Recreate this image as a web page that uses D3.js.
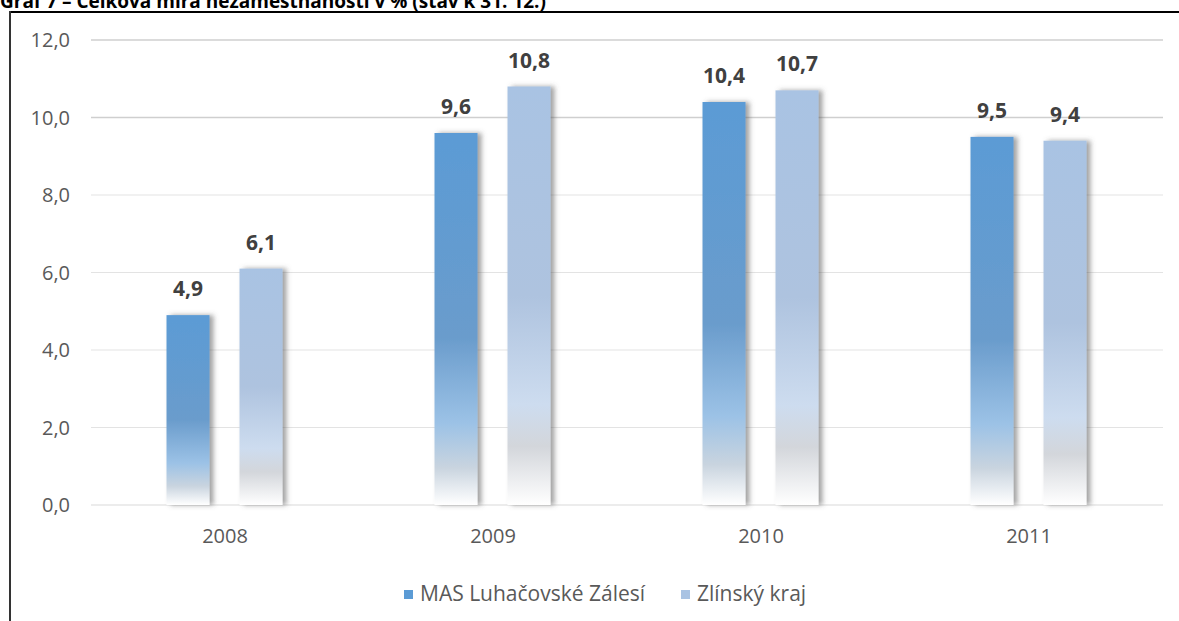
<!DOCTYPE html>
<html lang="cs">
<head>
  <meta charset="UTF-8">
  <title>Celková míra nezaměstnanosti</title>
  <script src="https://d3js.org/d3.v7.min.js"></script>
  <style>
    body { margin: 0; background: #fff; overflow: hidden; }
    svg { display: block; font-family: "Open Sans", "Noto Sans", sans-serif; }
  </style>
</head>
<body>
  <svg id="chart" width="1179" height="621"></svg>
  <script>
    const years = ["2008", "2009", "2010", "2011"];
    const seriesNames = ["MAS Luhačovské Zálesí", "Zlínský kraj"];
    const masValues = [4.9, 9.6, 10.4, 9.5];
    const krajValues = [6.1, 10.8, 10.7, 9.4];
    const yTicks = [0, 2, 4, 6, 8, 10, 12];

    const svg = d3.select("#chart");
    const fmt = v => d3.format(".1f")(v).replace(".", ",");

    // gradients + shadow
    const defs = svg.append("defs");
    const grads = [
      { id: "g0", stops: [[0, "#5b9bd5"], [0.55, "#6a9ccc"], [0.78, "#9cc2e6"], [0.9, "#c9d4df"], [1, "#ffffff"]] },
      { id: "g1", stops: [[0, "#a9c3e3"], [0.5, "#aec3df"], [0.76, "#cddcef"], [0.86, "#d3d6db"], [1, "#ffffff"]] }
    ];
    grads.forEach(g => {
      const lg = defs.append("linearGradient").attr("id", g.id)
        .attr("x1", 0).attr("y1", 0).attr("x2", 0).attr("y2", 1);
      g.stops.forEach(s => lg.append("stop").attr("offset", s[0]).attr("stop-color", s[1]));
    });
    defs.append("filter").attr("id", "shadow")
      .attr("x", "-20%").attr("y", "-5%").attr("width", "150%").attr("height", "110%")
      .append("feDropShadow").attr("dx", 4).attr("dy", 0).attr("stdDeviation", 2.5)
      .attr("flood-color", "#555").attr("flood-opacity", 0.55);

    // title (partly cut off at the top, as in the source)
    svg.append("text").attr("x", 0).attr("y", 8)
      .attr("font-size", 19).attr("font-weight", "bold").attr("fill", "#000")
      .text("Graf 7 – Celková míra nezaměstnanosti v % (stav k 31. 12.)");

    // frame
    svg.append("line").attr("x1", 10).attr("x2", 1179).attr("y1", 12).attr("y2", 12)
      .attr("stroke", "#000").attr("stroke-width", 2);
    svg.append("line").attr("x1", 10).attr("x2", 10).attr("y1", 11).attr("y2", 621)
      .attr("stroke", "#333").attr("stroke-width", 2);

    const x = d3.scaleBand().domain(years).range([91, 1163]);
    const y = d3.scaleLinear().domain([0, 12]).range([505, 40]);

    // grid
    svg.append("g").selectAll("line").data(yTicks).join("line")
      .attr("x1", 91).attr("x2", 1163)
      .attr("y1", d => y(d)).attr("y2", d => y(d))
      .attr("stroke", d => d === 0 ? "#d9d9d9" : (d >= 10 ? "#cfcfcf" : "#e3e3e3"))
      .attr("stroke-width", d => d >= 10 ? 1.6 : 1);

    // y labels
    svg.append("g").selectAll("text").data(yTicks).join("text")
      .attr("x", 70).attr("y", d => y(d)).attr("dy", "0.35em")
      .attr("text-anchor", "end").attr("font-size", 20).attr("fill", "#595959")
      .text(fmt);

    // x labels
    svg.append("g").selectAll("text").data(years).join("text")
      .attr("x", d => x(d) + x.bandwidth() / 2).attr("y", 543)
      .attr("text-anchor", "middle").attr("font-size", 20).attr("fill", "#595959")
      .text(d => d);

    const barW = 43;
    const offsets = [-37, 36];
    const series = [masValues, krajValues];

    series.forEach((vals, si) => {
      const g = svg.append("g");
      g.selectAll("rect").data(vals).join("rect")
        .attr("x", (d, i) => x(years[i]) + x.bandwidth() / 2 + offsets[si] - barW / 2)
        .attr("y", d => y(d))
        .attr("width", barW)
        .attr("height", d => y(0) - y(d))
        .attr("fill", `url(#g${si})`)
        .attr("filter", "url(#shadow)");
      g.selectAll("text").data(vals).join("text")
        .attr("x", (d, i) => x(years[i]) + x.bandwidth() / 2 + offsets[si])
        .attr("y", d => y(d) - 19)
        .attr("text-anchor", "middle").attr("font-size", 21).attr("font-weight", "bold")
        .attr("fill", "#404040")
        .text(fmt);
    });

    // legend
    const legendX = [404, 681];
    const legendColors = ["#5b9bd5", "#a9c3e3"];
    const lg = svg.append("g");
    seriesNames.forEach((n, i) => {
      lg.append("rect").attr("x", legendX[i]).attr("y", 590).attr("width", 9).attr("height", 9)
        .attr("fill", legendColors[i]);
      lg.append("text").attr("x", legendX[i] + 16).attr("y", 601)
        .attr("font-size", 21).attr("fill", "#595959").text(n);
    });
  </script>
</body>
</html>
